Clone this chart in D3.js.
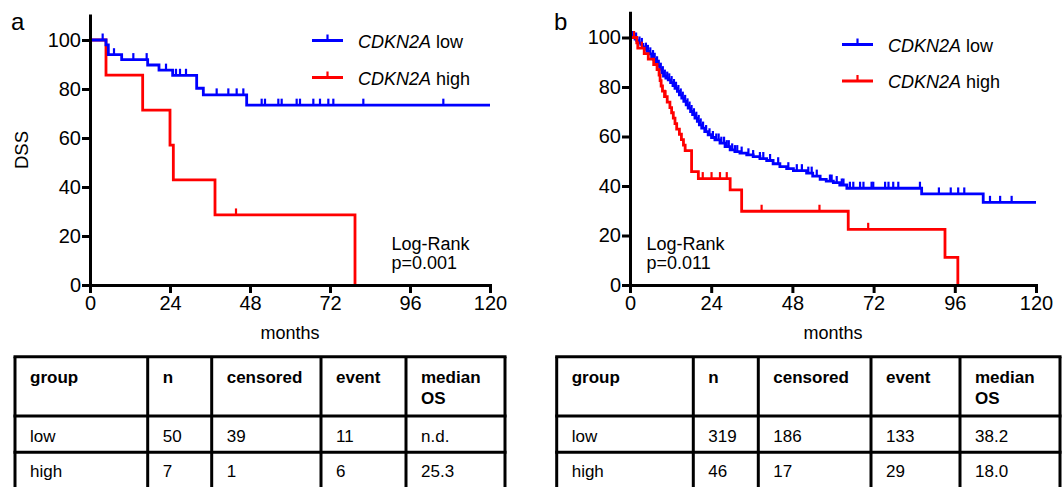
<!DOCTYPE html>
<html><head><meta charset="utf-8">
<script src="https://cdn.jsdelivr.net/npm/d3@7"></script>
<style>
body{margin:0;background:#fff;}
svg text{font-family:"Liberation Sans", Arial, sans-serif;fill:#000;}
</style>
</head><body>
<svg id="c" width="1063" height="487"></svg>
<script>
// ---------- data ----------
const xTickValues = [0, 24, 48, 72, 96, 120];
const yTickValues = [0, 20, 40, 60, 80, 100];

// DSS (panel a): [month, survival % after the step]
const dssLowSteps = [[4.8,98],[5.5,94],[9.5,92],[17.3,89.8],[20.7,87.7],[24.8,85.6],[32,80.3],[34,77.6],[47,73.4]];
const dssLowCensor = [3.8,7.2,13,17,22.8,25.8,27,28.8,38,41.5,44,46,51.5,52.5,56.5,57.5,62,63,67,69,71.5,73,82,106];
const dssHighSteps = [[4.8,85.7],[15.8,71.4],[24,57.1],[25,42.9],[37.5,28.6],[79.5,0]];
const dssHighCensor = [43.8];

// OS (panel b)
const osLowSteps = [[1.5,99.4],[2.0,98.7],[2.5,97.8],[3.2,97.2],[3.8,96.2],[4.4,95.3],[5.0,94.4],[5.6,93.4],[6.4,92.3],[7.0,91.2],[7.6,89.8],[8.2,88.4],[8.8,87.2],[9.4,85.8],[9.9,84.4],[10.6,83.6],[11.3,82.9],[12.0,81.8],[12.7,80.6],[13.3,79.5],[14.0,78.2],[14.6,76.8],[15.3,75.5],[15.9,74.2],[16.6,72.8],[17.2,71.5],[17.9,70.1],[18.5,68.8],[19.2,67.4],[19.9,66.1],[20.5,64.7],[21.2,63.4],[22.1,62.0],[23.1,60.7],[24.1,59.6],[25.1,58.6],[26.6,57.3],[28.1,55.9],[29.6,54.6],[31.0,53.9],[32.5,53.3],[34.5,52.6],[36.4,51.9],[38.4,51.1],[40.4,50.3],[42.3,49.0],[44.3,47.8],[46.3,47.0],[48.3,46.2],[52.2,45.2],[54.0,44.0],[56.2,42.7],[58.0,42.0],[60.1,41.4],[62.0,40.4],[64.1,39.1],[86.2,36.8],[104.4,33.4]];
const osLowCensor = [0.6,1.0,1.8,2.8,3.5,4.7,5.3,6.0,6.8,7.3,8.0,8.5,9.1,9.7,10.3,11,11.6,12.3,13,13.6,14.3,15,15.6,16.3,17,17.6,18.2,18.9,19.6,20.3,20.9,21.6,22.5,23.5,24.5,25.5,26.2,27,27.8,28.6,29.2,30.2,31,31.7,33,35,36.4,38.4,39.4,41.4,43.8,46.8,49.3,50.8,52.7,53.7,55.2,59.1,59.6,61.1,62.6,63.1,65,66,68,69,71.4,71.9,75.4,76.4,77.8,79.3,85.7,91.3,94.8,97,98.8,106.4,109.4,112.8];
const osHighSteps = [[2.0,97.8],[2.3,95.7],[4.2,93.5],[5.4,91.3],[7.0,89.1],[8.0,87.0],[8.6,84.8],[8.9,82.6],[9.2,80.4],[9.6,78.3],[10.2,76.1],[11.0,73.9],[11.8,71.7],[12.3,69.6],[12.8,67.4],[13.3,65.2],[13.8,63.0],[14.6,60.9],[15.2,58.7],[15.8,56.5],[16.3,54.3],[18.2,45.8],[20.2,43.0],[29.6,38.4],[33,29.8],[64.5,22.5],[93.1,11.2],[96.9,0]];
const osHighCensor = [1.2,3.5,10.5,21.5,24.1,26.6,28.6,38.9,56,70.4];

const legendLabels = ["low", "high"];
const tableHeader = ["group", "n", "censored", "event", "median OS"];
const tableARows = [["low","50","39","11","n.d."],["high","7","1","6","25.3"]];
const tableBRows = [["low","319","186","133","38.2"],["high","46","17","29","18.0"]];

// ---------- drawing ----------
const svg = d3.select("#c");
const BLUE = "#0000ff", RED = "#ff0000";

function drawPanel(p){
  const g = svg.append("g");
  const x = d3.scaleLinear().domain([0,120]).range([p.x0, p.x1]);
  const pxPer = (285 - p.y100)/100;
  const y = d3.scaleLinear().domain([0,110]).range([285, 285 - 110*pxPer]);

  p.series.forEach(s => {
    const pts = [[0,100], ...s.steps];
    if (s.end != null) pts.push([s.end, pts[pts.length-1][1]]);
    g.append("path")
      .attr("d", d3.line().x(d=>x(d[0])).y(d=>y(d[1])).curve(d3.curveStepAfter)(pts))
      .attr("fill","none").attr("stroke", s.color).attr("stroke-width", 2.8)
      .attr("stroke-linejoin","miter");
    const surv = t => { let v = 100; for (const [tt,vv] of s.steps){ if (tt <= t) v = vv; else break; } return v; };
    g.selectAll(null).data(s.censor).enter().append("line")
      .attr("x1", d=>x(d)).attr("x2", d=>x(d))
      .attr("y1", d=>y(surv(d))).attr("y2", d=>y(surv(d)) - 6.5)
      .attr("stroke", s.color).attr("stroke-width", 2.2);
  });

  // axes
  const ax = g.append("g").attr("transform","translate(0,285)")
    .call(d3.axisBottom(x).tickValues(xTickValues).tickSize(8).tickSizeOuter(0).tickPadding(3));
  const ay = g.append("g").attr("transform",`translate(${p.x0},0)`)
    .call(d3.axisLeft(y).tickValues(yTickValues).tickSize(8).tickSizeOuter(0).tickPadding(1));
  [ax, ay].forEach(a => {
    a.attr("font-size", 20).attr("font-family", '"Liberation Sans", Arial, sans-serif');
    a.select(".domain").attr("stroke","#000").attr("stroke-width",3).attr("stroke-linecap","square");
    a.selectAll(".tick line").attr("stroke","#000").attr("stroke-width",3);
    a.selectAll(".tick text").attr("font-size",20).attr("fill","#000");
  });

  // panel letter
  g.append("text").attr("x", p.letterX).attr("y", 30).attr("font-size", 24).text(p.letter);
  // y label
  g.append("text").attr("transform",`translate(${p.ylabX},150) rotate(-90)`)
    .attr("text-anchor","middle").attr("font-size",18.5).text(p.ylab);
  // x label
  g.append("text").attr("x",(p.x0+p.x1)/2).attr("y",339).attr("text-anchor","middle")
    .attr("font-size",18).text("months");

  // legend
  p.series.slice().sort((a,b)=>a.legendIdx-b.legendIdx).forEach((s,i) => {
    const ly = p.legY[i];
    g.append("line").attr("x1",p.legX).attr("x2",p.legX+31).attr("y1",ly).attr("y2",ly)
      .attr("stroke",s.color).attr("stroke-width",3);
    g.append("line").attr("x1",p.legX+15.5).attr("x2",p.legX+15.5).attr("y1",ly).attr("y2",ly-6)
      .attr("stroke",s.color).attr("stroke-width",2.2);
    const t = g.append("text").attr("x",p.legTextX).attr("y",ly+7).attr("font-size",18);
    t.append("tspan").attr("font-style","italic").text("CDKN2A");
    t.append("tspan").text(" " + legendLabels[s.legendIdx]);
  });

  // log-rank
  g.append("text").attr("x",p.logX).attr("y",250).attr("font-size",18).text("Log-Rank");
  g.append("text").attr("x",p.logX).attr("y",268.5).attr("font-size",18).text(p.pText);
}

drawPanel({
  x0:90, x1:490, y100:40, letter:"a", letterX:11, ylab:"DSS", ylabX:28,
  legX:312, legTextX:358, legY:[40.5,77.5], logX:391.5, pText:"p=0.001",
  series:[
    {steps:dssHighSteps, censor:dssHighCensor, color:RED, legendIdx:1, end:null},
    {steps:dssLowSteps, censor:dssLowCensor, color:BLUE, legendIdx:0, end:120}
  ]
});
drawPanel({
  x0:630, x1:1036, y100:37.5, letter:"b", letterX:554, ylabX:567,
  legX:842, legTextX:888, legY:[44.5,81], logX:646.5, pText:"p=0.011",
  series:[
    {steps:osLowSteps, censor:osLowCensor, color:BLUE, legendIdx:0, end:120},
    {steps:osHighSteps, censor:osHighCensor, color:RED, legendIdx:1, end:null}
  ]
});

function drawTable(cols, rows){
  const g = svg.append("g");
  const rowY = [356.7, 416, 452.3, 488.6];
  const pad = 15;
  rowY.forEach(yv => g.append("line").attr("x1",cols[0]-1.5).attr("x2",cols[cols.length-1]+1.5)
    .attr("y1",yv).attr("y2",yv).attr("stroke","#000").attr("stroke-width",3));
  cols.forEach(xv => g.append("line").attr("x1",xv).attr("x2",xv)
    .attr("y1",rowY[0]).attr("y2",rowY[3]).attr("stroke","#000").attr("stroke-width",3));
  tableHeader.forEach((h,i) => {
    h.split(" ").forEach((part,j) => {
      g.append("text").attr("x",cols[i]+pad).attr("y",383 + j*20.5)
        .attr("font-size",17).attr("font-weight","bold").text(part);
    });
  });
  rows.forEach((r,ri) => {
    r.forEach((v,ci) => {
      g.append("text").attr("x",cols[ci]+pad).attr("y",[441.5,477][ri])
        .attr("font-size",17).text(v);
    });
  });
}
drawTable([15,147.7,211.7,321,406,505], tableARows);
drawTable([556.7,693.3,758.3,871,960,1060], tableBRows);
</script>
</body></html>
